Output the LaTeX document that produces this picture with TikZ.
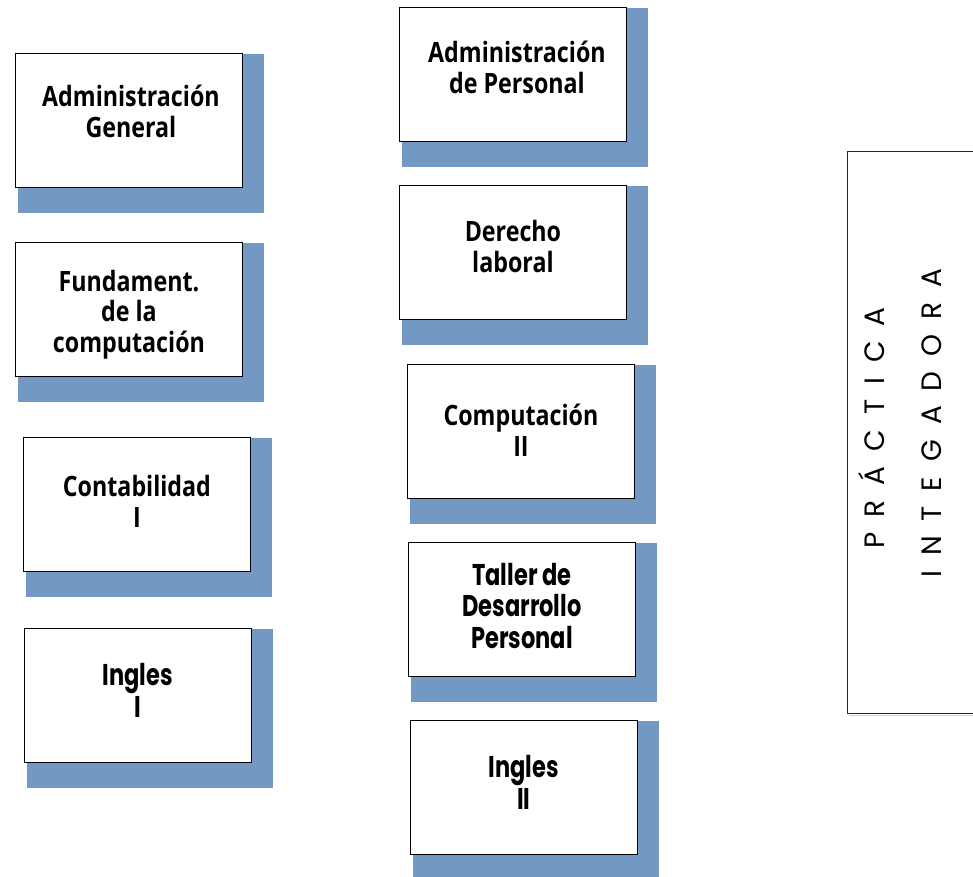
\documentclass[tikz,border=0pt]{standalone}
\usepackage{fontspec}
\setmainfont{Open Sans}
\newfontfamily\fa{Open Sans}[FakeStretch=0.83]
\newfontfamily\fb{Poppins}[FakeStretch=0.75]
\newfontfamily\fv{Poppins}
\usetikzlibrary{calc,backgrounds}
\definecolor{shadowblue}{RGB}{115,152,195}
\newcommand\lsp{\hskip 15pt}
\begin{document}
\begin{tikzpicture}[x=1pt,y=-1pt,
  box/.style={draw=black, line width=0.9pt, fill=white, rectangle, inner sep=0pt,
    minimum width=227pt, minimum height=134pt, anchor=north west},
  ta/.style={font=\fa\bfseries\fontsize{28}{30.5}\selectfont, align=center, anchor=base, inner sep=0pt},
  tb/.style={font=\fb\bfseries\fontsize{30}{31.5}\selectfont, align=center, anchor=base, inner sep=0pt},
  tv/.style={font=\fv\fontsize{28}{28}\selectfont, rotate=90, inner sep=0pt},
  sh/.style={fill=shadowblue, draw=none},
  pbox/.style={draw=black!85, line width=0.9pt, rectangle, inner sep=0pt,
    minimum width=150pt, minimum height=562pt, anchor=north west}]
\useasboundingbox (0,0) rectangle (973,876);

% left column
\node[box] (A) at (15,53) {};
\node[box] (B) at (15,242) {};
\node[box] (C) at (23,437) {};
\node[box] (D) at (24,628) {};
% middle column
\node[box] (E) at (399,7) {};
\node[box] (F) at (399,185) {};
\node[box] (G) at (407,364) {};
\node[box] (H) at (408,542) {};
\node[box] (I) at (410,720) {};

\begin{scope}[on background layer]
  \fill[white] (0,0) rectangle (973,876);
  \foreach \n in {A,B,C,D,E,F,G,H,I}
    \fill[sh] ($(\n.north west)+(3,1)$) rectangle ($(\n.south east)+(21,25)$);
\end{scope}

% texts (anchor base = baseline of the last line)
\node[ta] (tA) at ($(A.north)+(2,84)$) {Administración\\General};
\node[ta] (tB) at ($(B.north)+(0,110)$) {Fundament.\\de la\\computación};
\node[ta] (tC) at ($(C.north)+(0,90)$) {Contabilidad\\I};
\node[tb] (tD) at ($(D.north)+(0,89)$) {Ingles\\I};
\node[ta] (tE) at ($(E.north)+(4,86)$) {Administración\\de Personal};
\node[ta] (tF) at ($(F.north)+(0,87)$) {Derecho\\laboral};
\node[ta] (tG) at ($(G.north)+(0,92)$) {Computación\\II};
\node[tb] (tH) at ($(H.north)+(0,106)$) {Taller de\\Desarrollo\\Personal};
\node[tb] (tI) at ($(I.north)+(0,89)$) {Ingles\\II};

% right box
\draw[gray!35, line width=1pt] (849,715) -- (980,715);
\node[pbox] (P) at (847,151) {};
\node[tv] (p1) at (872,428) {P\lsp R\lsp Á\lsp C\lsp T\lsp I\lsp C\lsp A};
\node[tv] (p2) at (932,423) {I\lsp N\lsp T\lsp E\lsp G\lsp A\lsp D\lsp O\lsp R\lsp A};
\end{tikzpicture}
\end{document}
